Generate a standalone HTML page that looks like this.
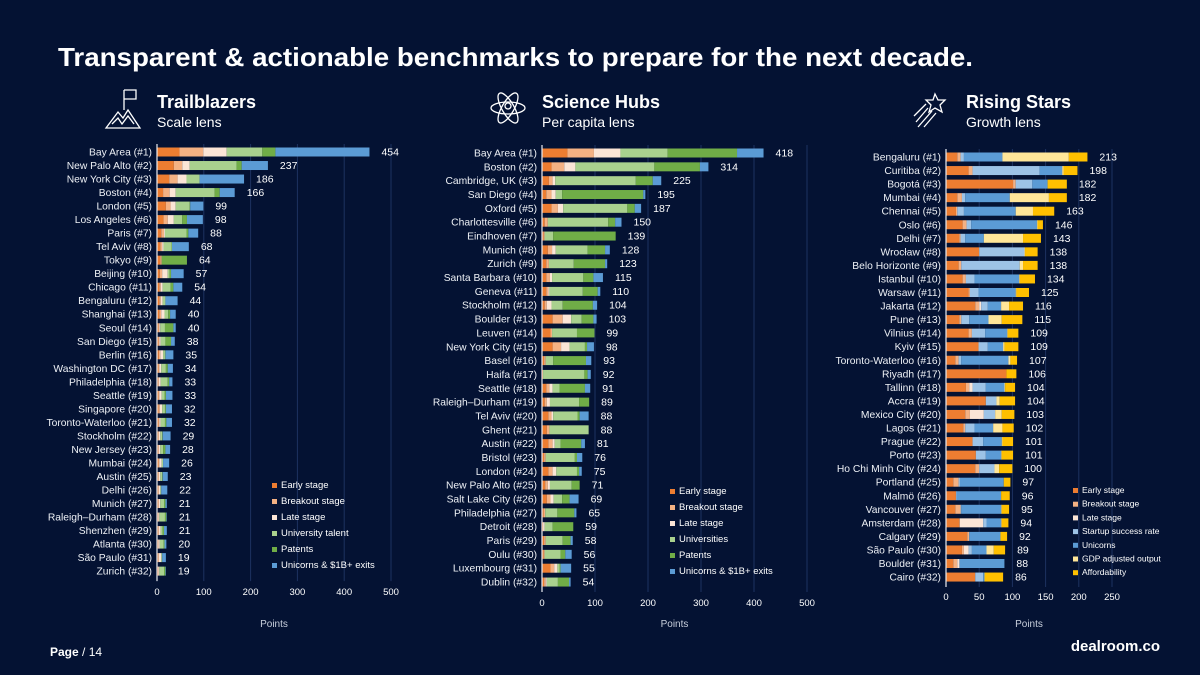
<!DOCTYPE html>
<html><head><meta charset="utf-8"><style>
html,body{margin:0;padding:0;background:#041233;}
svg{display:block;font-family:"Liberation Sans",sans-serif;}
</style></head><body>
<svg id="chart" width="1200" height="675" viewBox="0 0 1200 675" xmlns="http://www.w3.org/2000/svg">
<rect width="1200" height="675" fill="#041233"/>
<text x="58" y="66" fill="#fff" font-size="26" font-weight="bold" textLength="915" lengthAdjust="spacingAndGlyphs">Transparent &amp; actionable benchmarks to prepare for the next decade.</text>

<g fill="none" stroke="#fff" stroke-width="1.3">
<path d="M106 128 L118 112 L123 118 L128 110 L140 128 Z M112 124 L118 118 L122 124 L128 116 L134 124"/>
<path d="M124 110 V90 M124 90 H136 V99 H124"/>
</g>
<g fill="none" stroke="#fff" stroke-width="1.3">
<ellipse cx="508" cy="108" rx="17" ry="6"/>
<ellipse cx="508" cy="108" rx="17" ry="6" transform="rotate(60 508 108)"/>
<ellipse cx="508" cy="108" rx="17" ry="6" transform="rotate(-60 508 108)"/>
<circle cx="508" cy="106" r="3"/>
</g>
<g fill="none" stroke="#fff" stroke-width="1.3">
<path d="M935 94 L938 100 L945 100 L940 105 L942 112 L935 108 L929 112 L931 105 L926 100 L933 100 Z"/>
<path d="M928 108 L916 122 M932 111 L918 127 M936 113 L924 127 M926 104 L914 116"/>
</g>
<text x="157" y="108" fill="#fff" font-size="18" font-weight="bold">Trailblazers</text>
<text x="157" y="127" fill="#fff" font-size="14">Scale lens</text>
<text x="542" y="108" fill="#fff" font-size="18" font-weight="bold">Science Hubs</text>
<text x="542" y="127" fill="#fff" font-size="14">Per capita lens</text>
<text x="966" y="108" fill="#fff" font-size="18" font-weight="bold">Rising Stars</text>
<text x="966" y="127" fill="#fff" font-size="14">Growth lens</text>

<text x="50" y="656" fill="#fff" font-size="12"><tspan font-weight="bold">Page</tspan> / 14</text>
<text x="1160" y="651" fill="#fff" font-size="15" font-weight="bold" text-anchor="end">dealroom.co</text>
<g id="panels"></g>
</svg>
<script>
// ---------- Panel 1: Trailblazers ----------
const p1Cities=["Bay Area (#1)","New Palo Alto (#2)","New York City (#3)","Boston (#4)","London (#5)","Los Angeles (#6)","Paris (#7)","Tel Aviv (#8)","Tokyo (#9)","Beijing (#10)","Chicago (#11)","Bengaluru (#12)","Shanghai (#13)","Seoul (#14)","San Diego (#15)","Berlin (#16)","Washington DC (#17)","Philadelphia (#18)","Seattle (#19)","Singapore (#20)","Toronto-Waterloo (#21)","Stockholm (#22)","New Jersey (#23)","Mumbai (#24)","Austin (#25)","Delhi (#26)","Munich (#27)","Raleigh–Durham (#28)","Shenzhen (#29)","Atlanta (#30)","São Paulo (#31)","Zurich (#32)"];
const p1Totals=[454,237,186,166,99,98,88,68,64,57,54,44,40,40,38,35,34,33,33,32,32,29,28,26,23,22,21,21,21,20,19,19];
const p1Early=[48,36,26,13,19,14,9,7,7,6,5,5,5,3,3,4,3,2,3,3,3,2,2,3,2,2,2,2,2,2,2,2];
const p1Breakout=[51,18,18,14,10,9,6,4,3,5,3,3,4,2,2,3,2,2,2,3,2,2,2,2,2,2,2,1,2,1,2,1];
const p1Late=[50,16,19,13,11,13,2,3,0,12,4,4,7,2,3,6,4,4,5,5,3,3,3,5,3,3,3,2,4,3,5,2];
const p1Univ=[76,100,28,83,30,18,46,17,0,4,17,6,8,10,10,4,10,15,6,6,9,4,6,3,4,2,8,12,4,8,2,10];
const p1Patents=[28,11,0,11,1,10,4,1,54,3,6,0,4,18,12,1,4,3,3,2,3,1,5,0,1,0,3,3,3,2,0,3];
const p1Unicorns=[201,56,95,32,28,34,21,36,0,27,19,26,12,5,8,17,11,7,14,13,12,17,10,13,11,13,3,1,6,4,8,1];
const p1Series=["Early stage","Breakout stage","Late stage","University talent","Patents","Unicorns & $1B+ exits"];
const p1Ticks=[0,100,200,300,400,500];

// ---------- Panel 2: Science Hubs ----------
const p2Cities=["Bay Area (#1)","Boston (#2)","Cambridge, UK (#3)","San Diego (#4)","Oxford (#5)","Charlottesville (#6)","Eindhoven (#7)","Munich (#8)","Zurich (#9)","Santa Barbara (#10)","Geneva (#11)","Stockholm (#12)","Boulder (#13)","Leuven (#14)","New York City (#15)","Basel (#16)","Haifa (#17)","Seattle (#18)","Raleigh–Durham (#19)","Tel Aviv (#20)","Ghent (#21)","Austin (#22)","Bristol (#23)","London (#24)","New Palo Alto (#25)","Salt Lake City (#26)","Philadelphia (#27)","Detroit (#28)","Paris (#29)","Oulu (#30)","Luxembourg (#31)","Dublin (#32)"];
const p2Totals=[418,314,225,195,187,150,139,128,123,115,110,104,103,99,98,93,92,91,89,88,88,81,76,75,71,69,65,59,58,56,55,54];
const p2Early=[48,18,13,8,18,5,3,11,8,8,8,5,20,16,20,4,2,8,5,12,9,12,4,12,6,9,3,2,4,3,16,4];
const p2Breakout=[50,24,7,10,12,6,2,8,5,7,4,4,19,3,16,3,0,6,4,6,5,8,3,8,5,7,3,0,3,2,7,3];
const p2Late=[50,21,5,8,10,0,0,7,0,4,2,9,16,0,16,0,0,6,6,3,0,4,0,7,4,6,0,3,0,0,6,2];
const p2Univ=[89,149,152,12,121,114,16,60,47,59,63,21,20,47,29,14,78,13,55,46,74,11,55,39,41,16,23,15,32,30,4,21];
const p2Patents=[131,86,32,153,14,13,118,33,59,19,28,57,22,33,4,62,6,48,19,4,0,39,4,4,15,14,32,39,15,9,2,21];
const p2Unicorns=[50,16,16,4,12,12,0,9,4,18,5,8,6,0,13,10,6,10,0,17,0,7,10,5,0,17,4,0,4,12,20,3];
const p2Series=["Early stage","Breakout stage","Late stage","Universities","Patents","Unicorns & $1B+ exits"];
const p2Ticks=[0,100,200,300,400,500];

// ---------- Panel 3: Rising Stars ----------
const p3Cities=["Bengaluru (#1)","Curitiba (#2)","Bogotá (#3)","Mumbai (#4)","Chennai (#5)","Oslo (#6)","Delhi (#7)","Wrocław (#8)","Belo Horizonte (#9)","Istanbul (#10)","Warsaw (#11)","Jakarta (#12)","Pune (#13)","Vilnius (#14)","Kyiv (#15)","Toronto-Waterloo (#16)","Riyadh (#17)","Tallinn (#18)","Accra (#19)","Mexico City (#20)","Lagos (#21)","Prague (#22)","Porto (#23)","Ho Chi Minh City (#24)","Portland (#25)","Malmö (#26)","Vancouver (#27)","Amsterdam (#28)","Calgary (#29)","São Paulo (#30)","Boulder (#31)","Cairo (#32)"];
const p3Totals=[213,198,182,182,163,146,143,138,138,134,125,116,115,109,109,107,106,104,104,103,102,101,101,100,97,96,95,94,92,89,88,86];
const p3Early=[17,34,101,17,15,25,20,50,19,25,34,44,20,34,49,14,91,30,60,29,26,40,45,44,11,15,14,20,32,24,11,44];
const p3Breakout=[5,6,4,7,2,6,2,0,4,5,2,6,3,5,0,5,0,5,0,7,3,0,0,6,8,0,8,1,3,3,6,0];
const p3Late=[0,0,0,0,0,0,0,0,0,0,0,3,0,0,0,0,0,5,0,21,0,0,0,0,0,0,0,35,0,7,3,0];
const p3Success=[5,101,25,5,10,7,7,68,88,13,13,10,12,20,14,4,0,20,16,17,14,16,15,23,2,1,1,5,0,5,1,12];
const p3Unicorns=[58,34,23,67,78,99,28,0,0,67,56,20,29,33,23,71,0,28,0,0,28,28,23,0,66,67,60,22,47,22,67,2];
const p3Gdp=[100,2,0,59,26,1,59,1,5,1,1,12,20,1,2,3,0,1,5,10,14,1,1,7,0,0,1,1,0,11,0,0];
const p3Afford=[28,21,29,27,32,8,27,19,22,23,19,21,31,16,21,10,15,15,23,19,17,16,17,20,10,13,11,10,10,17,0,28];
const p3Series=["Early stage","Breakout stage","Late stage","Startup success rate","Unicorns","GDP adjusted output","Affordability"];
const p3Ticks=[0,50,100,150,200,250];

const NS="http://www.w3.org/2000/svg";
const root=document.getElementById('panels');
function mk(tag,attrs,parent,text){const e=document.createElementNS(NS,tag);for(const k in attrs)e.setAttribute(k,attrs[k]);if(text!==undefined)e.textContent=text;parent.appendChild(e);return e;}

function drawPanel(p){
  const g=mk('g',{},root);
  
  
  const xs=v=>p.x0+v*p.scale;
  const ys=i=>p.y0+i*p.step;
  const top=ys(0)-8, bottom=ys(p.cities.length-1)+10;
  p.ticks.forEach(t=>{
    if(t>0){const gl=mk('line',{x1:xs(t),x2:xs(t),y1:top,y2:bottom,stroke:'#1d3260','stroke-width':1},g);
      
      }
    const tl=mk('text',{x:xs(t),y:p.tickY,fill:'#fff','font-size':9.5,'text-anchor':'middle'},g,String(t));
    
    
  });
  const at=mk('text',{x:(xs(p.ticks[0])+xs(p.ticks[p.ticks.length-1]))/2,y:627,fill:'#c8cfdc','font-size':10,'text-anchor':'middle'},g,'Points');
  
  
  p.cities.forEach((c,i)=>{
    const y=ys(i);
    const lb=mk('text',{x:p.x0-5,y:y+3.5,fill:'#eef1f6','font-size':10.3,'text-anchor':'end'},g,c);
    
    
    let acc=0;
    p.series.forEach((s,k)=>{
      const v=s[i]; if(!v)return;
      const r=mk('rect',{x:xs(acc),y:y-4.5,width:v*p.scale,height:9,fill:p.colors[k]},g);
      
      
      acc+=v;
    });
    const vl=mk('text',{x:xs(acc)+12,y:y+3.5,fill:'#fff','font-size':10.5},g,String(p.totals[i]));
    
    
  });
  const ax=mk('line',{x1:p.x0,x2:p.x0,y1:top,y2:bottom,stroke:'#e8ecf2','stroke-width':1.2},g);
  
  
  p.names.forEach((n,k)=>{
    const ly=p.legY+k*p.legStep;
    const sq=mk('rect',{x:p.legX,y:ly-5,width:5,height:5,fill:p.colors[k]},g);
    
    
    const lt=mk('text',{x:p.legX+9,y:ly,fill:'#fff','font-size':p.legFont},g,n);
    
    
  });
}
const c6=['#ED7D31','#F4B183','#FBE5D6','#A9D18E','#70AD47','#5B9BD5'];
drawPanel({key:'trailblazers',cities:p1Cities,totals:p1Totals,series:[p1Early,p1Breakout,p1Late,p1Univ,p1Patents,p1Unicorns],names:p1Series,colors:c6,ticks:p1Ticks,x0:157,scale:0.468,y0:152,step:13.52,tickY:595,legX:272,legY:488,legStep:16,legFont:9.5});
drawPanel({key:'science-hubs',cities:p2Cities,totals:p2Totals,series:[p2Early,p2Breakout,p2Late,p2Univ,p2Patents,p2Unicorns],names:p2Series,colors:c6,ticks:p2Ticks,x0:542,scale:0.53,y0:153,step:13.84,tickY:606,legX:670,legY:494,legStep:16,legFont:9.5});
drawPanel({key:'rising-stars',cities:p3Cities,totals:p3Totals,series:[p3Early,p3Breakout,p3Late,p3Success,p3Unicorns,p3Gdp,p3Afford],names:p3Series,colors:['#ED7D31','#F4B183','#FBE5D6','#9DC3E6','#5B9BD5','#FFE699','#FFC000'],ticks:p3Ticks,x0:946,scale:0.664,y0:157,step:13.55,tickY:600,legX:1073,legY:493,legStep:13.7,legFont:8.5});
</script>
</body></html>
